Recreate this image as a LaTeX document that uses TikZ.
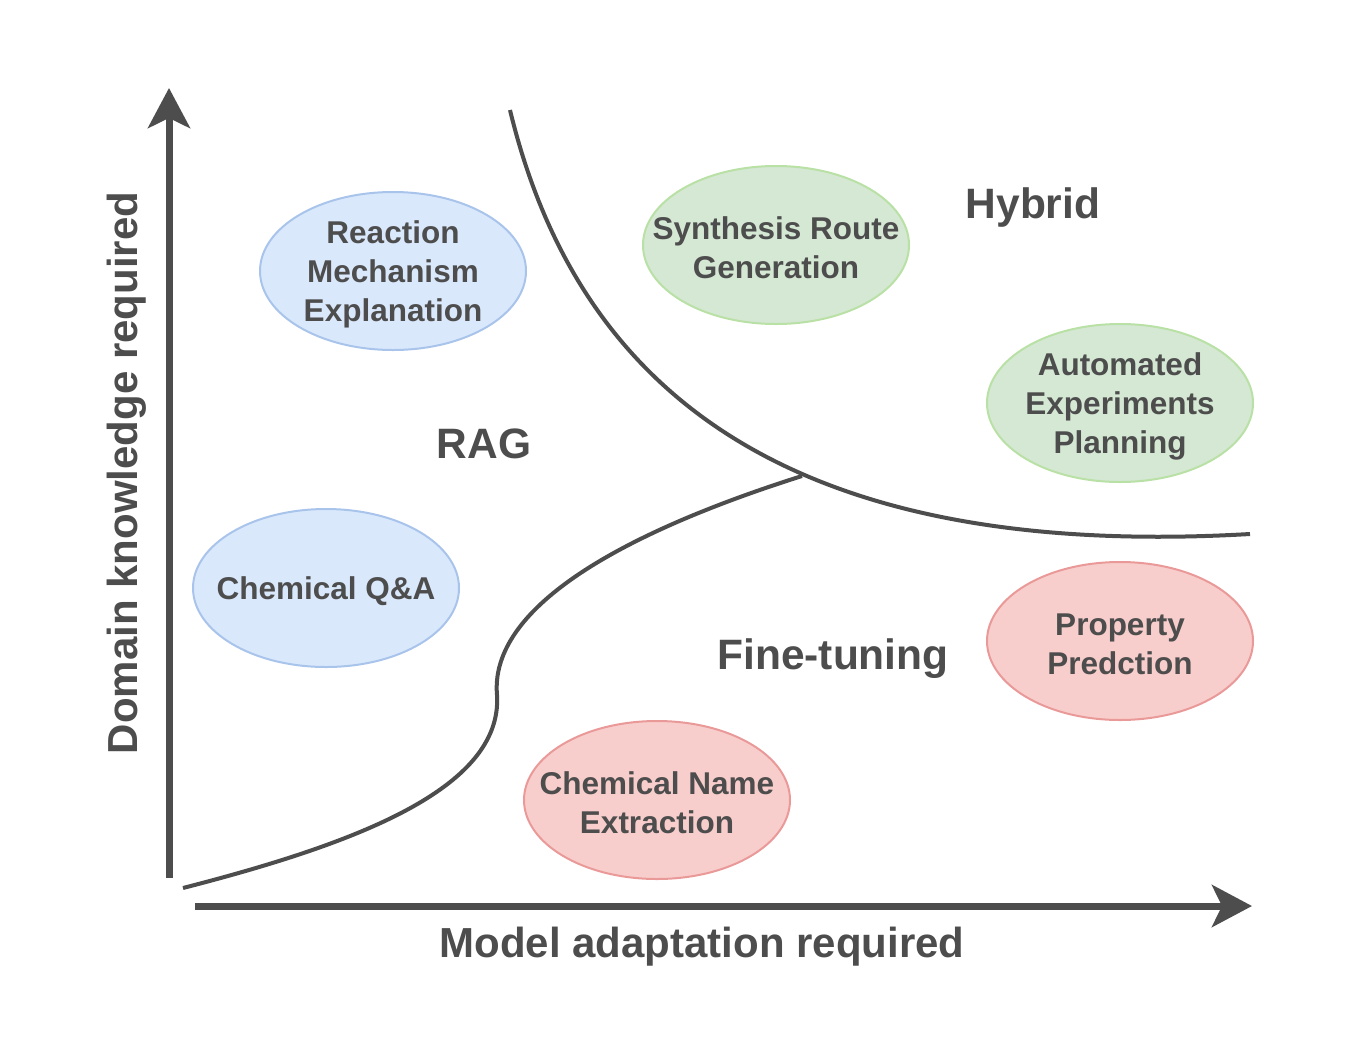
\documentclass[tikz,border=0pt]{standalone}
\usepackage{fontspec}
\setmainfont{Liberation Sans}
\usetikzlibrary{arrows.meta,shapes.geometric}
\definecolor{ink}{HTML}{4D4D4D}
\definecolor{bfill}{HTML}{DAE8FC}
\definecolor{bline}{HTML}{A9C4EB}
\definecolor{gfill}{HTML}{D5E8D4}
\definecolor{gline}{HTML}{B9E0A5}
\definecolor{rfill}{HTML}{F8CECC}
\definecolor{rline}{HTML}{EA9999}
\begin{document}
\begin{tikzpicture}[x=1pt,y=-1pt,
  task/.style={ellipse,draw,line width=2pt,minimum width=266pt,minimum height=158pt,inner sep=0pt},
  tasktext/.style={align=center,text=ink,yshift=-3pt,font=\fontsize{31.5}{39}\selectfont\bfseries},
  bluetask/.style={task,fill=bfill,draw=bline},
  greentask/.style={task,fill=gfill,draw=gline},
  redtask/.style={task,fill=rfill,draw=rline},
  region/.style={text=ink,font=\fontsize{42.5}{50}\selectfont\bfseries},
  axislabel/.style={text=ink,font=\fontsize{42}{50}\selectfont\bfseries},
  axis/.style={draw=ink,line width=7pt,-{Stealth[length=40pt,width=42pt,inset=10pt]}},
  border/.style={draw=ink,line width=4pt}]
\useasboundingbox (0,0) rectangle (1363,1050);
% axes
\coordinate (yb) at (169,878);
\coordinate (yt) at (169,88);
\coordinate (xl) at (195,906);
\coordinate (xr) at (1252,906);
\draw[axis] (yb) -- (yt);
\draw[axis] (xl) -- (xr);
\node[axislabel] (xlab) at (702,947) {Model adaptation required};
\node[axislabel,rotate=90] (ylab) at (127,473) {Domain knowledge required};
% boundaries
\coordinate (h0) at (510,110);
\coordinate (h1) at (1250,534);
\coordinate (f0) at (183,888);
\coordinate (fm) at (497,695);
\coordinate (f1) at (802,476);
\draw[border] (h0) .. controls (580,400) and (800,560) .. (h1);
\draw[border] (f0) .. controls (350,845) and (503,790) .. (fm)
  .. controls (490,615) and (600,540) .. (f1);
% regions
\node[region] (rag) at (484,444) {RAG};
\node[region] (hyb) at (1033,208) {Hybrid};
\node[region] (ft) at (833,659) {Fine-tuning};
% tasks
\node[bluetask,label={[tasktext]center:Reaction\\Mechanism\\Explanation}] (rme) at (393,271) {};
\node[bluetask,label={[tasktext]center:Chemical Q\&A}] (cqa) at (326,588) {};
\node[greentask,label={[tasktext]center:Synthesis Route\\Generation}] (srg) at (776,245) {};
\node[greentask,label={[tasktext]center:Automated\\Experiments\\Planning}] (aep) at (1120,403) {};
\node[redtask,label={[tasktext]center:Property\\Predction}] (pp) at (1120,641) {};
\node[redtask,label={[tasktext]center:Chemical Name\\Extraction}] (cne) at (657,800) {};
\end{tikzpicture}
\end{document}
